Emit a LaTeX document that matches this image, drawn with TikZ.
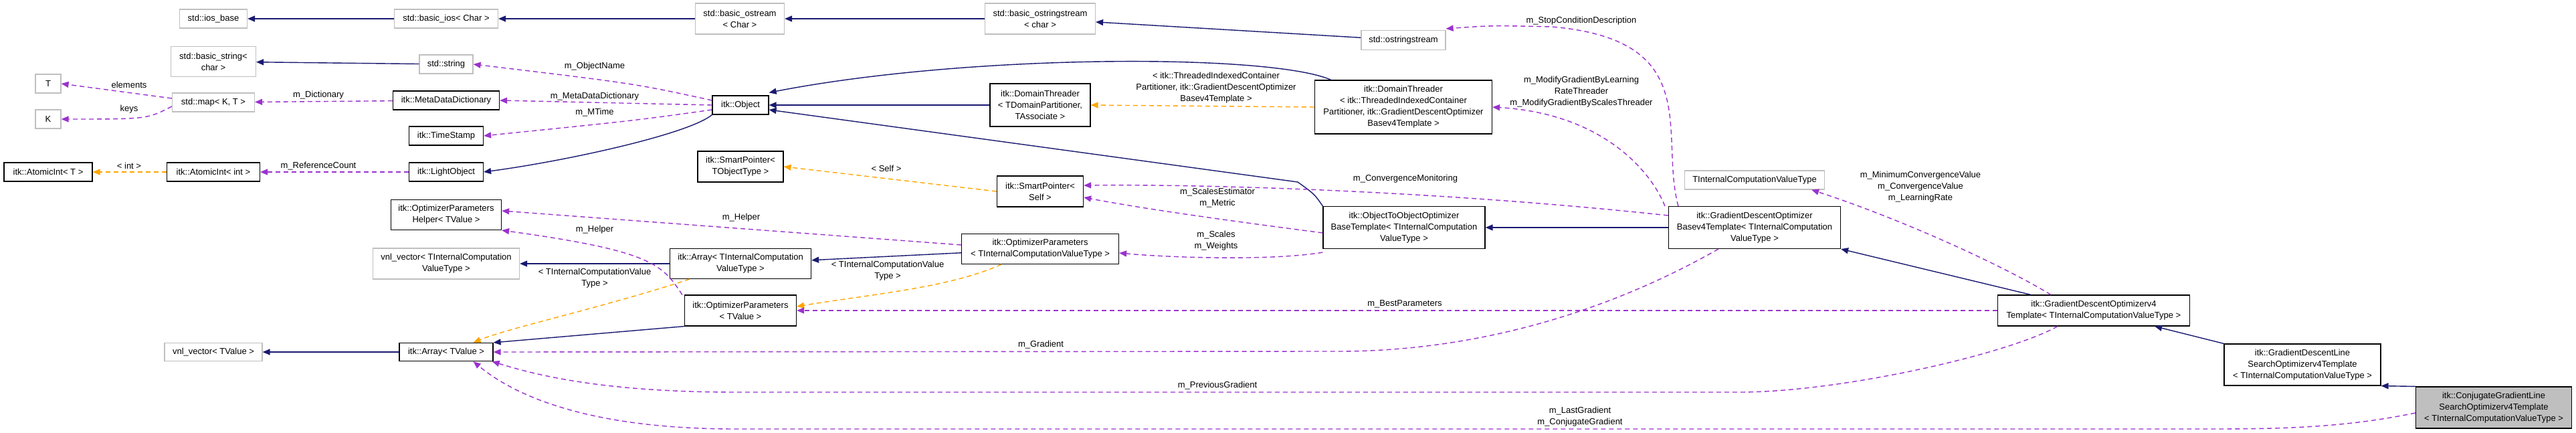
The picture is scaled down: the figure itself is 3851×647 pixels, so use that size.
\documentclass[tikz,border=0pt]{standalone}
\usepackage{fontspec}
\setmainfont{Liberation Sans}
\usepackage{tikz}
\usetikzlibrary{arrows.meta,positioning}
\definecolor{edgenavy}{RGB}{25,25,112}
\definecolor{edgeorchid}{RGB}{154,50,205}
\definecolor{edgeorange}{RGB}{255,165,0}

\begin{document}
\begin{tikzpicture}[
    x=1pt, y=-1pt,
    cls/.style={rectangle, draw=black, fill=white, line width=1.2pt, inner sep=1pt, align=center, font=\fontsize{13}{17}\selectfont},
    ext/.style={cls, draw=gray!50},
    lbl/.style={align=center, inner sep=0pt, font=\fontsize{13}{17}\selectfont},
    inh/.style={draw=edgenavy, line width=1.4pt, -{Triangle[length=11pt,width=9pt]}},
    use/.style={draw=edgeorchid, line width=1.4pt, dash pattern=on 7pt off 5pt, -{Triangle[length=11pt,width=9pt]}},
    tpl/.style={draw=edgeorange, line width=1.4pt, dash pattern=on 7pt off 5pt, -{Triangle[length=11pt,width=9pt]}}
]
\useasboundingbox (0,0) rectangle (3851,647);
% std classes
\node[ext, minimum width=101pt, minimum height=28pt] (iosBase) at (319,28) {std::ios\_base};
\node[ext, minimum width=155pt, minimum height=28pt] (basicIos) at (667,28) {std::basic\_ios< Char >};
\node[ext, minimum width=133pt, minimum height=46pt] (basicOstream) at (1106,28) {std::basic\_ostream\\< Char >};
\node[ext, minimum width=165pt, minimum height=46pt] (basicOss) at (1555,28) {std::basic\_ostringstream\\< char >};
\node[ext, minimum width=126pt, minimum height=29pt] (ostringstream) at (2098,60) {std::ostringstream};
\node[ext, minimum width=127pt, minimum height=45pt] (basicString) at (319,92) {std::basic\_string<\\char >};
\node[ext, minimum width=80pt, minimum height=28pt] (stdString) at (667,96) {std::string};
\node[ext, minimum width=38pt, minimum height=28pt] (tNode) at (72,125) {T};
\node[ext, minimum width=38pt, minimum height=28pt] (kNode) at (72,178) {K};
\node[ext, minimum width=123pt, minimum height=28pt] (stdMap) at (319,153) {std::map< K, T >};
% itk base objects
\node[cls, minimum width=159pt, minimum height=28pt] (metaDict) at (667,150) {itk::MetaDataDictionary};
\node[cls, minimum width=111pt, minimum height=28pt] (timeStamp) at (667,203) {itk::TimeStamp};
\node[cls, minimum width=132pt, minimum height=28pt] (atomicT) at (72,257) {itk::AtomicInt< T >};
\node[cls, minimum width=139pt, minimum height=28pt] (atomicInt) at (319,257) {itk::AtomicInt< int >};
\node[cls, minimum width=111pt, minimum height=28pt] (lightObject) at (667,257) {itk::LightObject};
\node[cls, minimum width=84pt, minimum height=28pt] (itkObject) at (1107,157) {itk::Object};
\node[cls, minimum width=150pt, minimum height=64pt] (threaderDom) at (1555,157) {itk::DomainThreader\\< TDomainPartitioner,\\TAssociate >};
\node[cls, minimum width=265pt, minimum height=80pt] (threaderBig) at (2098,160) {itk::DomainThreader\\< itk::ThreadedIndexedContainer\\Partitioner, itk::GradientDescentOptimizer\\Basev4Template >};
% pointers and parameters
\node[cls, minimum width=128pt, minimum height=46pt] (smartObj) at (1107,249) {itk::SmartPointer<\\TObjectType >};
\node[cls, minimum width=129pt, minimum height=46pt] (smartSelf) at (1555,286) {itk::SmartPointer<\\Self >};
\node[cls, minimum width=165pt, minimum height=45pt] (helper) at (667,321) {itk::OptimizerParameters\\Helper< TValue >};
\node[ext, minimum width=219pt, minimum height=46pt] (vnlI) at (667,394) {vnl\_vector< TInternalComputation\\ValueType >};
\node[cls, minimum width=211pt, minimum height=45pt] (arrayI) at (1107,394) {itk::Array< TInternalComputation\\ValueType >};
\node[cls, minimum width=235pt, minimum height=45pt] (optParamsI) at (1555,372) {itk::OptimizerParameters\\< TInternalComputationValueType >};
\node[cls, minimum width=167pt, minimum height=46pt] (optParamsT) at (1107,464) {itk::OptimizerParameters\\< TValue >};
\node[ext, minimum width=146pt, minimum height=27pt] (vnlT) at (319,526) {vnl\_vector< TValue >};
\node[cls, minimum width=140pt, minimum height=27pt] (arrayT) at (667,526) {itk::Array< TValue >};
% optimizers
\node[cls, minimum width=242pt, minimum height=63pt] (objToObj) at (2099,340) {itk::ObjectToObjectOptimizer\\BaseTemplate< TInternalComputation\\ValueType >};
\node[ext, minimum width=209pt, minimum height=28pt] (valueType) at (2623,269) {TInternalComputationValueType};
\node[cls, minimum width=257pt, minimum height=63pt] (gdBase) at (2623,340) {itk::GradientDescentOptimizer\\Basev4Template< TInternalComputation\\ValueType >};
\node[cls, minimum width=287pt, minimum height=46pt] (gdv4) at (3130,464) {itk::GradientDescentOptimizerv4\\Template< TInternalComputationValueType >};
\node[cls, minimum width=234pt, minimum height=62pt] (gdLine) at (3442,545) {itk::GradientDescentLine\\SearchOptimizerv4Template\\< TInternalComputationValueType >};
\node[cls, fill=gray!50, minimum width=233pt, minimum height=62pt] (conjugate) at (3728,609) {itk::ConjugateGradientLine\\SearchOptimizerv4Template\\< TInternalComputationValueType >};
% inheritance
\draw[inh] (basicIos) -- (iosBase);
\draw[inh] (basicOstream) -- (basicIos);
\draw[inh] (basicOss) -- (basicOstream);
\draw[inh] (ostringstream) -- (basicOss);
\draw[inh] (stdString) -- (basicString);
\draw[inh] (itkObject.south west) .. controls (1030,200) and (850,240) .. (lightObject.east);
\draw[inh] (threaderDom) -- (itkObject);
\draw[inh] ([xshift=25pt]threaderBig.north west) .. controls (1900,80) and (1450,80) .. ([yshift=4pt]itkObject.north east);
\draw[inh] (objToObj.north west) .. controls (1965,290) .. (1940,272) -- ([yshift=-7pt]itkObject.east);
\draw[inh] (gdBase) -- (objToObj);
\draw[inh] ([xshift=50pt]gdv4.north west) -- (gdBase.south east);
\draw[inh] (gdLine.north west) -- ([xshift=-53pt]gdv4.south east);
\draw[inh] (conjugate.north west) -- (gdLine.south east);
\draw[inh] (optParamsI) -- (arrayI);
\draw[inh] (arrayI) -- (vnlI);
\draw[inh] (optParamsT.south west) -- (arrayT.north east);
\draw[inh] (arrayT) -- (vnlT);
% template instances
\draw[tpl] (atomicInt) -- (atomicT);
\draw[tpl] (threaderBig.west) -- (threaderDom.east);
\draw[tpl] (smartSelf.west) -- (smartObj.east);
\draw[tpl] ([xshift=60pt]optParamsI.south west) .. controls (1420,430) and (1300,440) .. ([yshift=6pt]optParamsT.east);
\draw[tpl] ([xshift=30pt]arrayI.south west) .. controls (900,460) and (760,490) .. ([xshift=-30pt]arrayT.north east);
% members
\draw[use] ([yshift=7pt]itkObject.west) .. controls (950,125) .. (stdString.east);
\draw[use] (itkObject.west) -- (metaDict.east);
\draw[use] ([yshift=-7pt]itkObject.west) .. controls (950,180) .. (timeStamp.east);
\draw[use] (metaDict) -- (stdMap);
\draw[use] ([yshift=6pt]stdMap.west) -- (tNode.east);
\draw[use] ([yshift=-6pt]stdMap.west) .. controls (220,178) .. (kNode.east);
\draw[use] (lightObject) -- (atomicInt);
\draw[use] ([yshift=6pt]optParamsI.west) -- ([yshift=6pt]helper.east);
\draw[use] ([xshift=-3pt]optParamsT.north west) .. controls (990,395) and (975,375) .. (helper.south east);
\draw[use] ([yshift=-8pt]objToObj.west) .. controls (1800,325) and (1700,310) .. ([yshift=-9pt]smartSelf.east);
\draw[use] ([yshift=-5pt]objToObj.south west) .. controls (1900,390) and (1750,385) .. ([yshift=-6pt]optParamsI.east);
\draw[use] ([yshift=18pt]gdBase.west) .. controls (2150,285) and (1800,275) .. ([yshift=9pt]smartSelf.east);
\draw[use] ([xshift=15pt]gdBase.north west) .. controls (2480,200) and (2550,60) .. (2320,40) .. controls (2230,38) .. ([yshift=2pt]ostringstream.north east);
\draw[use] ([xshift=-5pt]gdBase.north west) .. controls (2470,260) and (2400,170) .. (threaderBig.east);
\draw[use] ([xshift=75pt]gdBase.south west) .. controls (2450,440) and (2250,525) .. (2000,525) -- (arrayT.east);
\draw[use] ([xshift=80pt]gdv4.north west) .. controls (3000,400) and (2850,330) .. ([xshift=-20pt]valueType.south east);
\draw[use] (gdv4.west) -- (optParamsT.east);
\draw[use] ([xshift=90pt]gdv4.south west) .. controls (3000,530) and (2750,586) .. (2600,586) -- (1100,586) .. controls (900,586) and (800,560) .. ([xshift=-2pt]arrayT.south east);
\draw[use] ([yshift=-8pt]conjugate.west) .. controls (3500,640) and (3400,641) .. (3300,641) -- (1100,641) .. controls (900,641) and (780,600) .. ([xshift=-30pt]arrayT.south east);
% labels
\node[lbl] (lElements) at (193,127) {elements};
\node[lbl] (lKeys) at (193,163) {keys};
\node[lbl] (lDict) at (476,142) {m\_Dictionary};
\node[lbl] (lInt) at (193,248) {< int >};
\node[lbl] (lRefCount) at (476,248) {m\_ReferenceCount};
\node[lbl] (lObjName) at (889,99) {m\_ObjectName};
\node[lbl] (lMetaDict) at (889,144) {m\_MetaDataDictionary};
\node[lbl] (lMTime) at (889,168) {m\_MTime};
\node[lbl] (lHelperT) at (889,343) {m\_Helper};
\node[lbl] (lTplValue) at (889,416) {< TInternalComputationValue\\Type >};
\node[lbl] (lHelperI) at (1108,325) {m\_Helper};
\node[lbl] (lSelf) at (1325,252) {< Self >};
\node[lbl] (lTplInternal) at (1327,405) {< TInternalComputationValue\\Type >};
\node[lbl] (lThreader) at (1818,131) {< itk::ThreadedIndexedContainer\\Partitioner, itk::GradientDescentOptimizer\\Basev4Template >};
\node[lbl] (lEstimator) at (1820,296) {m\_ScalesEstimator\\m\_Metric};
\node[lbl] (lScales) at (1818,360) {m\_Scales\\m\_Weights};
\node[lbl] (lGradient) at (1556,515) {m\_Gradient};
\node[lbl] (lPrevious) at (1820,576) {m\_PreviousGradient};
\node[lbl] (lStop) at (2364,31) {m\_StopConditionDescription};
\node[lbl] (lModify) at (2364,137) {m\_ModifyGradientByLearning\\RateThreader\\m\_ModifyGradientByScalesThreader};
\node[lbl] (lMonitor) at (2101,267) {m\_ConvergenceMonitoring};
\node[lbl] (lMinimum) at (2871,279) {m\_MinimumConvergenceValue\\m\_ConvergenceValue\\m\_LearningRate};
\node[lbl] (lBest) at (2100,454) {m\_BestParameters};
\node[lbl] (lLast) at (2362,623) {m\_LastGradient\\m\_ConjugateGradient};
\end{tikzpicture}
\end{document}
